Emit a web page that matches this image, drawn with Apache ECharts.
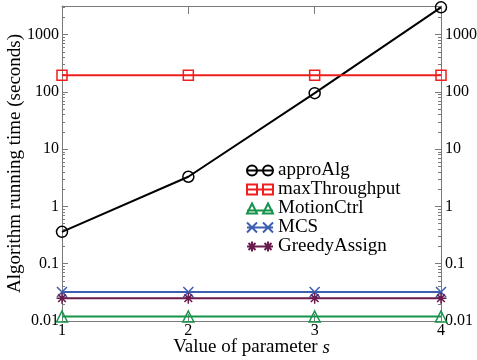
<!DOCTYPE html>
<html><head><meta charset="utf-8">
<script src="https://cdn.jsdelivr.net/npm/echarts@6/dist/echarts.min.js"></script>
<style>html,body{margin:0;padding:0;background:#fff}#c{width:477px;height:360px}</style>
</head><body><div id="c"></div>
<script>
const sValues = [1, 2, 3, 4];
const approAlg = [0.36, 3.3, 95, 3000];
const maxThroughput = [195, 195, 195, 195];
const motionCtrl = [0.012, 0.012, 0.012, 0.012];
const mcs = [0.032, 0.032, 0.032, 0.032];
const greedyAssign = [0.025, 0.025, 0.025, 0.025];
const seriesNames = ['approAlg', 'maxThroughput', 'MotionCtrl', 'MCS', 'GreedyAssign'];
const yMajorTicks = [0.01, 0.1, 1, 10, 100, 1000];
const yMinorTicks = [];
for (let d = -2; d <= 3; d++) for (let k = 2; k <= 9; k++) {
  const v = +(k * Math.pow(10, d)).toPrecision(3);
  if (v < 3162) yMinorTicks.push(v);
}
const yMin = 0.01, yMax = 3162;
const FONT = '"Liberation Serif", "DejaVu Serif", serif';
const AX = '#7a7a7a';

// legend icon glyphs: two markers joined by a line (26 x 12 box)
const circ = cx => `M${cx-5},6 a5,5 0 1,0 10,0 a5,5 0 1,0 -10,0 `;
const ICONS = {
  approAlg: 'path://' + circ(5) + circ(21) + 'M0,6 L26,6 M0,0 L0,0.01 M26,12 L26,11.99',
  maxThroughput: 'path://M0,1 L10,1 L10,11 L0,11 Z M16,1 L26,1 L26,11 L16,11 Z M0,6 L26,6 M0,0 L0,0.01 M26,12 L26,11.99',
  MotionCtrl: 'path://M5,1 L10,11 L0,11 Z M21,1 L26,11 L16,11 Z M0,8 L26,8 M0,0 L0,0.01 M26,12 L26,11.99',
  MCS: 'path://M0,1 L10,11 M10,1 L0,11 M16,1 L26,11 M26,1 L16,11 M0,6 L26,6 M0,0 L0,0.01 M26,12 L26,11.99',
  GreedyAssign: 'path://M5,1 L5,11 M0,6 L10,6 M1.5,2.5 L8.5,9.5 M8.5,2.5 L1.5,9.5 M21,1 L21,11 M16,6 L26,6 M17.5,2.5 L24.5,9.5 M24.5,2.5 L17.5,9.5 M0,6 L26,6 M0,0 L0,0.01 M26,12 L26,11.99'
};

const chart = echarts.init(document.getElementById('c'), null, {renderer: 'canvas'});
const pair = arr => sValues.map((x, i) => [x, arr[i]]);
function mk(name, data, color, symbol, size) {
  return {
    name, type: 'line', data: pair(data), symbol, symbolSize: size,
    xAxisIndex: 0, yAxisIndex: 0,
    lineStyle: {color, width: 2},
    itemStyle: {color: 'rgba(0,0,0,0)', borderColor: color, borderWidth: 1.5},
    emphasis: {disabled: true}, animation: false, clip: false, z: 3
  };
}
const yBase = (pos, extra) => Object.assign({
  type: 'log', logBase: 10, min: yMin, max: yMax, position: pos,
  axisLine: {show: true, lineStyle: {color: AX, width: 1}},
  splitLine: {show: false}, minorTick: {show: false}
}, extra);
const majorY = pos => yBase(pos, {
  axisTick: {show: true, inside: true, length: 6, lineStyle: {color: AX}, customValues: yMajorTicks},
  axisLabel: {show: true, customValues: yMajorTicks, fontFamily: FONT, fontSize: 16, color: '#000',
    margin: pos === 'left' ? 3 : 4,
    formatter: v => String(+v.toPrecision(3))}
});
const minorY = pos => yBase(pos, {
  axisLine: {show: false},
  axisTick: {show: true, inside: true, length: 3, lineStyle: {color: AX}, customValues: yMinorTicks},
  axisLabel: {show: false}
});

chart.setOption({
  backgroundColor: '#fff',
  animation: false,
  grid: {left: 62, right: 36, top: 6, bottom: 39, containLabel: false, outerBoundsMode: 'none'},
  xAxis: [{
    type: 'value', min: 1, max: 4, interval: 1, position: 'bottom',
    name: '{a|Value of parameter }{b|s}', nameLocation: 'middle', nameGap: 17, nameMoveOverlap: false,
    nameTextStyle: {rich: {a: {fontFamily: FONT, fontSize: 19, color: '#000'}, b: {fontFamily: FONT, fontSize: 19, fontStyle: 'italic', color: '#000'}}},
    axisLine: {show: true, lineStyle: {color: AX}},
    axisTick: {show: true, inside: true, length: 7, lineStyle: {color: AX}},
    axisLabel: {fontFamily: FONT, fontSize: 16, color: '#000', margin: 2},
    splitLine: {show: false}
  }, {
    type: 'value', min: 1, max: 4, interval: 1, position: 'top',
    axisLine: {show: true, lineStyle: {color: AX}},
    axisTick: {show: true, inside: true, length: 8, lineStyle: {color: AX}},
    axisLabel: {show: false}, splitLine: {show: false}
  }],
  yAxis: [
    Object.assign(majorY('left'), {
      name: 'Algorithm running time (seconds)', nameLocation: 'middle', nameGap: 37, nameMoveOverlap: false,
      nameTextStyle: {fontFamily: FONT, fontSize: 19, color: '#000'}
    }),
    minorY('left'), majorY('right'), minorY('right')
  ],
  legend: {
    orient: 'vertical', left: 246, top: 161, padding: 0, itemWidth: 26, itemHeight: 12, itemGap: 0,
    textStyle: {fontFamily: FONT, fontSize: 19, color: '#000', lineHeight: 19},
    data: seriesNames.map(n => ({name: n, icon: ICONS[n]}))
  },
  series: [
    mk(seriesNames[0], approAlg, '#000000', 'circle', 11),
    mk(seriesNames[1], maxThroughput, '#f01e1e', 'rect', 10),
    mk(seriesNames[2], motionCtrl, '#16934a', 'triangle', 11),
    mk(seriesNames[3], mcs, '#3d5db0', 'path://M0,0L10,10M10,0L0,10', 10),
    mk(seriesNames[4], greedyAssign, '#6a1b4d', 'path://M5,0L5,10M0,5L10,5M1.5,1.5L8.5,8.5M8.5,1.5L1.5,8.5', 11)
  ]
});
</script></body></html>
